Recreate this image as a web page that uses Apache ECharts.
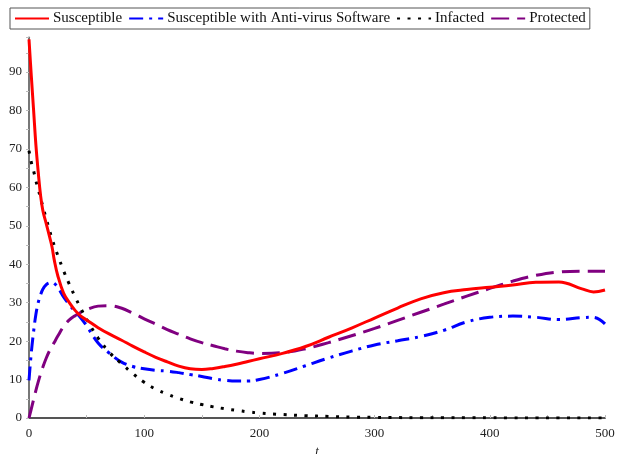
<!DOCTYPE html>
<html>
<head>
<meta charset="utf-8">
<script src="https://cdn.jsdelivr.net/npm/echarts@6/dist/echarts.min.js"></script>
<style>html,body{margin:0;padding:0;background:#fff}#c{width:617px;height:454px}</style>
</head>
<body>
<div id="c"></div>
<script>
const seriesNames = ['Susceptible', 'Susceptible with Anti-virus Software', 'Infacted', 'Protected'];
const tValues = [0,2,4,6,8,10,12,15,18,20,22,25,30,35,40,45,50,60,70,80,90,100,110,120,130,140,150,160,170,180,190,200,220,240,260,280,300,320,340,360,380,400,420,440,460,480,490,500];
const susceptible = [98.5,89,80,71,64,58,54,50.5,47,44.5,41,37,32.5,30,28,26.5,25.5,23.5,21.8,20.3,18.7,17.2,15.8,14.6,13.5,12.8,12.6,12.9,13.4,14.0,14.7,15.4,16.8,18.6,21,23.4,26,28.6,31,32.6,33.4,34,34.6,35.3,35.4,33.6,32.8,33.3];
const susceptibleAV = [9.8,17,22.5,27,30,32,33.5,34.7,35.2,35.3,35,34,31.5,29.5,27.7,26,24,19.5,16.8,14.6,13.4,12.8,12.4,12.2,11.8,11.3,10.8,10.2,9.8,9.6,9.6,10,11.6,13.6,15.6,17.4,19,20.1,21.2,22.8,25,26.2,26.5,26.2,25.6,26.1,26.2,24.5];
const infected = [69.5,66.5,64.3,61.7,59.5,57.3,55,51.8,48.6,46.6,44.8,42.3,38.3,34.8,31.5,28.5,25.7,20.8,17,14.2,11.6,9.3,7.5,6.2,5.1,4.2,3.5,2.9,2.4,2.0,1.6,1.3,0.9,0.6,0.4,0.25,0.15,0.1,0.08,0.06,0.05,0.04,0.03,0.03,0.02,0.02,0.02,0.02];
const protectedP = [0,2.4,4.8,7.2,9.4,11.4,13.2,15.6,17.6,18.6,19.7,21.3,23.8,25.5,26.6,27.5,28.2,29.1,29.2,28.6,27.3,25.8,24.4,23,21.8,20.6,19.6,18.8,18,17.4,17,16.8,17,18,19.6,21.4,23.3,25.4,27.5,29.6,31.7,33.7,35.6,37.1,38,38.2,38.2,38.2];

const pair = arr => tValues.map((t, i) => [t, arr[i]]);
const font = 'Liberation Serif';

const chart = echarts.init(document.getElementById('c'), null, {renderer: 'canvas'});
chart.setOption({
  animation: false,
  backgroundColor: '#fff',
  textStyle: {fontFamily: font},
  legend: {
    top: 8, left: 10,
    data: seriesNames,
    borderColor: '#555', borderWidth: 1,
    padding: [3, 4, 3, 4],
    itemGap: 6, itemWidth: 34, itemHeight: 14,
    itemStyle: {opacity: 0},
    textStyle: {fontFamily: font, fontSize: 15, color: '#111', padding: [0, 0, 0, -1]}
  },
  grid: {left: 29, right: 12, top: 37.4, bottom: 36, outerBoundsMode: 'none', containLabel: false},
  xAxis: {
    type: 'value', min: 0, max: 500, interval: 100,
    name: 't', nameLocation: 'middle', nameGap: 23,
    nameTextStyle: {fontStyle: 'italic', fontFamily: font, fontSize: 13, color: '#222'},
    axisLine: {lineStyle: {color: '#555', width: 2}},
    axisTick: {show: true, inside: true, length: 3, lineStyle: {color: '#bbb'}},
    minorTick: {show: true, splitNumber: 2, length: 3, lineStyle: {color: '#bbb'}},
    axisLabel: {fontFamily: font, fontSize: 13, color: '#222', margin: 9},
    splitLine: {show: false}
  },
  yAxis: {
    type: 'value', min: 0, max: 99, interval: 10,
    axisLine: {show: true, lineStyle: {color: '#777', width: 2}},
    axisTick: {show: true, length: 3, lineStyle: {color: '#bbb'}},
    minorTick: {show: true, splitNumber: 2, length: 3, lineStyle: {color: '#bbb'}},
    axisLabel: {fontFamily: font, fontSize: 13, color: '#222', margin: 7, showMaxLabel: false},
    splitLine: {show: false}
  },
  series: [
    {name: seriesNames[1], type: 'line', smooth: 0.4, symbol: 'none', data: pair(susceptibleAV),
     itemStyle: {color: '#0000ff'}, lineStyle: {color: '#0000ff', width: 3, type: [14, 6, 3, 6]}, z: 2},
    {name: seriesNames[2], type: 'line', smooth: 0.4, symbol: 'none', data: pair(infected),
     itemStyle: {color: '#000'}, lineStyle: {color: '#000', width: 3, type: [3, 7.5]}, z: 3},
    {name: seriesNames[3], type: 'line', smooth: 0.4, symbol: 'none', data: pair(protectedP),
     itemStyle: {color: '#800080'}, lineStyle: {color: '#800080', width: 3, type: [18, 8]}, z: 2},
    {name: seriesNames[0], type: 'line', smooth: 0.4, symbol: 'none', data: pair(susceptible),
     itemStyle: {color: '#ff0000'}, lineStyle: {color: '#ff0000', width: 3}, z: 4}
  ]
});
</script>
</body>
</html>
